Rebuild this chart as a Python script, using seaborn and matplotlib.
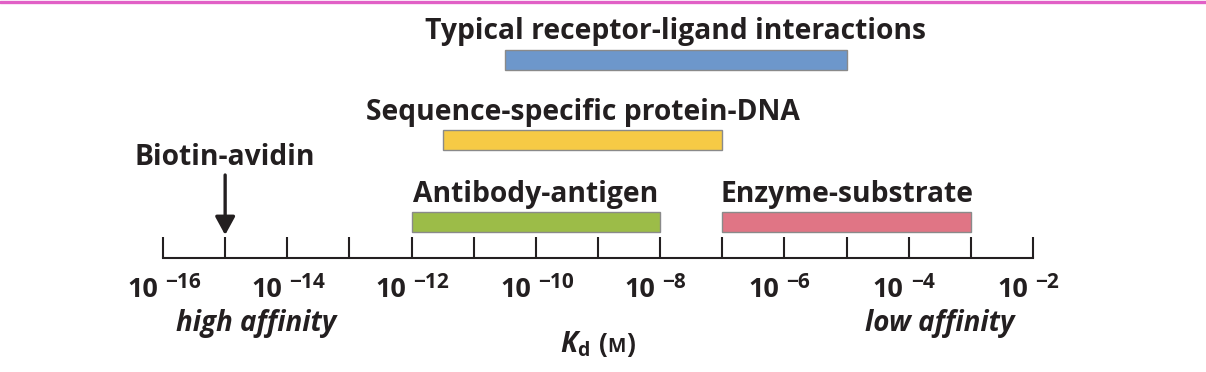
import numpy as np
import matplotlib.pyplot as plt
import matplotlib.lines as mlines
import seaborn as sns

# dissociation constant ranges, in log10(Kd / M)
interactions = ["Typical receptor-ligand interactions", "Sequence-specific protein-DNA",
                "Antibody-antigen", "Enzyme-substrate"]
log_kd_low = [-10.5, -11.5, -12, -7]
log_kd_high = [-5, -7, -8, -3]
rows = [2, 1, 0, 0]
bar_colors = ["#6d97cb", "#f6ca45", "#9cbc48", "#e07585"]
biotin_avidin = -15
tick_exponents = list(range(-16, -1))
label_exponents = list(range(-16, -1, 2))

sns.set_style("white")
plt.rcParams['font.family'] = ['Open Sans', 'DejaVu Sans']
plt.rcParams['mathtext.fontset'] = 'custom'
plt.rcParams['mathtext.rm'] = 'Open Sans:bold'
plt.rcParams['mathtext.bf'] = 'Open Sans:bold'
plt.rcParams['mathtext.it'] = 'Open Sans:italic:bold'

ink = "#231f20"
W, H = 1206, 372
fig = plt.figure(figsize=(W / 100, H / 100), dpi=100)
# axes spans from the top of the figure down to the axis line (y=258 px)
ax = fig.add_axes([163 / W, (H - 258) / H, 870 / W, 258 / H])
ax.set_xlim(-16, -2)
ax.set_ylim(258, 0)  # y in pixels from top
per_px = 14 / 870  # x data units per pixel

row_y = {2: 59.5, 1: 140, 0: 222}
bar_h = 20
for name, lo, hi, r, c in zip(interactions, log_kd_low, log_kd_high, rows, bar_colors):
    y = row_y[r]
    ax.barh(y, hi - lo, left=lo, height=bar_h, color=c, edgecolor="#8a8a8a", linewidth=1)
    ax.text((lo + hi) / 2, y - bar_h / 2 - 10, name, ha="center", va="baseline",
            fontsize=20.3, fontweight="bold", color=ink)

# biotin-avidin arrow
ax.annotate("", xy=(biotin_avidin, 235), xytext=(biotin_avidin, 175),
            arrowprops=dict(arrowstyle="-|>,head_length=1.1,head_width=0.6",
                            color=ink, lw=2.4, shrinkA=0, shrinkB=0))
ax.text(biotin_avidin, 165, "Biotin-avidin", ha="center", va="baseline",
        fontsize=20.3, fontweight="bold", color=ink)

for s in ["top", "left", "right"]:
    ax.spines[s].set_visible(False)
ax.spines["bottom"].set_linewidth(1.5)
ax.spines["bottom"].set_color(ink)
ax.set_yticks([])
ax.set_xticks(tick_exponents)
ax.tick_params(axis="x", direction="in", length=15, width=1.5, color=ink,
               labelbottom=False, bottom=True)

# power-of-ten labels: base and raised exponent
for e in label_exponents:
    ax.text(e - 5 * per_px, 297, "10", ha="right", va="baseline", fontsize=19.5,
            fontweight="bold", color=ink, clip_on=False)
    ax.text(e + 2 * per_px, 288, "\u2212%d" % abs(e), ha="left", va="baseline",
            fontsize=15, fontweight="bold", color=ink, clip_on=False)

# annotations under the axis
ax.text(-14.5, 331, "high affinity", ha="center", va="baseline", fontsize=20,
        fontweight="bold", fontstyle="italic", color=ink, clip_on=False)
ax.text(-3.5, 331, "low affinity", ha="center", va="baseline", fontsize=20,
        fontweight="bold", fontstyle="italic", color=ink, clip_on=False)

# K_d (M) with a small-cap style M
def px(x, y):
    return x / W, 1 - y / H

fig.text(*px(560, 352), r"$K_{\mathbf{d}}$", ha="left", va="baseline", fontsize=20, color=ink)
fig.text(*px(599, 352), "(", ha="left", va="baseline", fontsize=19, fontweight="bold", color=ink)
fig.text(*px(607, 352), "M", ha="left", va="baseline", fontsize=14, fontweight="bold", color=ink)
fig.text(*px(626, 352), ")", ha="left", va="baseline", fontsize=19, fontweight="bold", color=ink)

# magenta rule along the top edge
fig.add_artist(mlines.Line2D([0, 1], [1 - 1.5 / H, 1 - 1.5 / H], transform=fig.transFigure,
                             color="#e160c6", lw=2.4))

fig.savefig("out.png", dpi=100)
